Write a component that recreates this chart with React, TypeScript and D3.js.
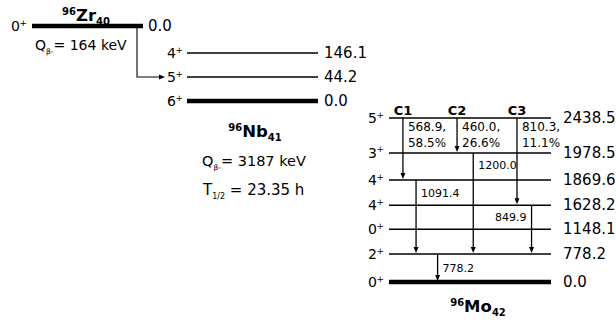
import React from "react";
import * as d3 from "d3";

// ---- Data ----
const zrSpins = ["0"];
const zrEnergies = ["0.0"];
const nbSpins = ["4", "5", "6"];
const nbEnergies = ["146.1", "44.2", "0.0"];
const moSpins = ["5", "3", "4", "4", "0", "2", "0"];
const moEnergies = ["2438.5", "1978.5", "1869.6", "1628.2", "1148.1", "778.2", "0.0"];
const moSlots = [0, 1.28, 2.27, 3.19, 4.07, 4.98, 6.0];

// transitions: from level index, to level index, label lines
const gammaFrom = [0, 0, 0, 2, 1, 3, 5];
const gammaTo = [2, 1, 3, 5, 5, 5, 6];
const gammaLabels = [["568.9,", "58.5%"], ["460.0,", "26.6%"], ["810.3,", "11.1%"], ["1091.4"], ["1200.0"], ["849.9"], ["778.2"]];
const gammaCols = [0.086, 0.42, 0.79, 0.167, 0.52, 0.88, 0.30];
const cascadeNames = ["C1", "C2", "C3"];

const FONT = "DejaVu Sans, sans-serif";

function Spin({ x, y, v }: { x: number; y: number; v: string }) {
  return (
    <g>
      <text x={x} y={y + 5} fontSize={14} textAnchor="end" fontFamily={FONT}>{v}</text>
      <text x={x + 7} y={y - 0.5} fontSize={9} textAnchor="end" fontFamily={FONT}>+</text>
    </g>
  );
}

function Nuc({ cx, y, a, sym, z }: { cx: number; y: number; a: string; sym: string; z: string }) {
  return (
    <text x={cx} y={y} textAnchor="middle" fontFamily={FONT} fontWeight="bold" fontSize={16.5}>
      <tspan fontSize={10} dy={-6}>{a}</tspan>
      <tspan dy={6}>{sym}</tspan>
      <tspan fontSize={10} dy={4}>{z}</tspan>
    </text>
  );
}

function Arrow({ x, y1, y2 }: { x: number; y1: number; y2: number }) {
  const tip = y2 - 1;
  return (
    <g>
      <line x1={x} x2={x} y1={y1} y2={tip - 5} stroke="#000" strokeWidth={1.3} />
      <path d={`M${x - 2.5},${tip - 6}L${x + 2.5},${tip - 6}L${x},${tip}Z`} fill="#000" />
    </g>
  );
}

export default function App() {
  const W = 616, H = 320;

  // Zr
  const zrY = 26, zrX0 = 32, zrX1 = 143;
  // Nb
  const nbY = d3.scalePoint<string>().domain(nbSpins.map((_, i) => String(i))).range([53, 101]);
  const nbX0 = 187, nbX1 = 318;
  // Mo
  const moY = d3.scaleLinear().domain([0, 6]).range([118, 282]);
  const moX = d3.scaleLinear().domain([0, 1]).range([389, 551]);

  return (
    <svg width={W} height={H} style={{ position: "absolute", left: 0, top: 0 }}>
      <rect width={W} height={H} fill="#fff" />
      {/* Zr */}
      <Nuc cx={86} y={21} a="96" sym="Zr" z="40" />
      {zrSpins.map((s, i) => (
        <g key={"zr" + i}>
          <line x1={zrX0} x2={zrX1} y1={zrY} y2={zrY} stroke="#000" strokeWidth={4.5} />
          <Spin x={20} y={zrY} v={s} />
          <text x={148} y={zrY + 5} fontSize={15} fontFamily={FONT}>{zrEnergies[i]}</text>
        </g>
      ))}
      <text x={35} y={50} fontSize={14} fontFamily={FONT}>
        Q<tspan fontSize={7.5} dy={4}>β-</tspan><tspan dy={-4}>= 164 keV</tspan>
      </text>
      {/* Zr -> Nb beta arrow */}
      <path d={`M137,${zrY + 2}V${nbY("1")!}H160`} fill="none" stroke="#000" strokeWidth={1.1} />
      <path d={`M159,${nbY("1")! - 2.5}L159,${nbY("1")! + 2.5}L165,${nbY("1")!}Z`} fill="#000" />

      {/* Nb */}
      {nbSpins.map((s, i) => {
        const y = nbY(String(i))!;
        const thick = i === nbSpins.length - 1;
        return (
          <g key={"nb" + i}>
            <line x1={nbX0} x2={nbX1} y1={y} y2={y} stroke="#000" strokeWidth={thick ? 4.5 : 1.5} />
            <Spin x={176} y={y} v={s} />
            <text x={324} y={y + 5} fontSize={15} fontFamily={FONT}>{nbEnergies[i]}</text>
          </g>
        );
      })}
      <Nuc cx={255} y={137} a="96" sym="Nb" z="41" />
      <text x={202} y={166} fontSize={14.5} fontFamily={FONT}>
        Q<tspan fontSize={7.5} dy={4}>β-</tspan><tspan dy={-4}>= 3187 keV</tspan>
      </text>
      <text x={203} y={195} fontSize={15} fontFamily={FONT}>
        T<tspan fontSize={8} dy={4}>1/2</tspan><tspan dy={-4}> = 23.35 h</tspan>
      </text>

      {/* Mo */}
      {moSpins.map((s, i) => {
        const y = moY(moSlots[i]);
        const thick = i === moSpins.length - 1;
        return (
          <g key={"mo" + i}>
            <line x1={moX(0)} x2={moX(1)} y1={y} y2={y} stroke="#000" strokeWidth={thick ? 4.5 : 1.5} />
            <Spin x={377} y={y} v={s} />
            <text x={563} y={y + 5} fontSize={15} fontFamily={FONT}>{moEnergies[i]}</text>
          </g>
        );
      })}
      {gammaFrom.map((f, i) => {
        const x = moX(gammaCols[i]);
        const y1 = moY(moSlots[f]);
        const y2 = moY(moSlots[gammaTo[i]]);
        const lines = gammaLabels[i];
        const isBranch = lines.length > 1;
        const leftLabel = gammaLabels[i][0] === "849.9";
        let ly: number;
        if (isBranch) ly = y1 + 13;
        else {
          const yNext = moY(moSlots[Math.min(f + 1, 6)]);
          ly = (y1 + yNext) / 2 + (f === 1 ? 2 : 4);
        }
        return (
          <g key={"g" + i}>
            <Arrow x={x} y1={y1} y2={y2} />
            {lines.map((t, j) => (
              <text key={j} x={leftLabel ? x - 5 : x + 5} y={ly + j * 16} fontSize={isBranch ? 12 : 11}
                textAnchor={leftLabel ? "end" : "start"} fontFamily={FONT}>{t}</text>
            ))}
          </g>
        );
      })}
      {cascadeNames.map((c, i) => (
        <text key={c} x={moX(gammaCols[i])} y={115} textAnchor="middle" fontSize={13} fontWeight="bold" fontFamily={FONT}>{c}</text>
      ))}
      <Nuc cx={478} y={312} a="96" sym="Mo" z="42" />
    </svg>
  );
}
